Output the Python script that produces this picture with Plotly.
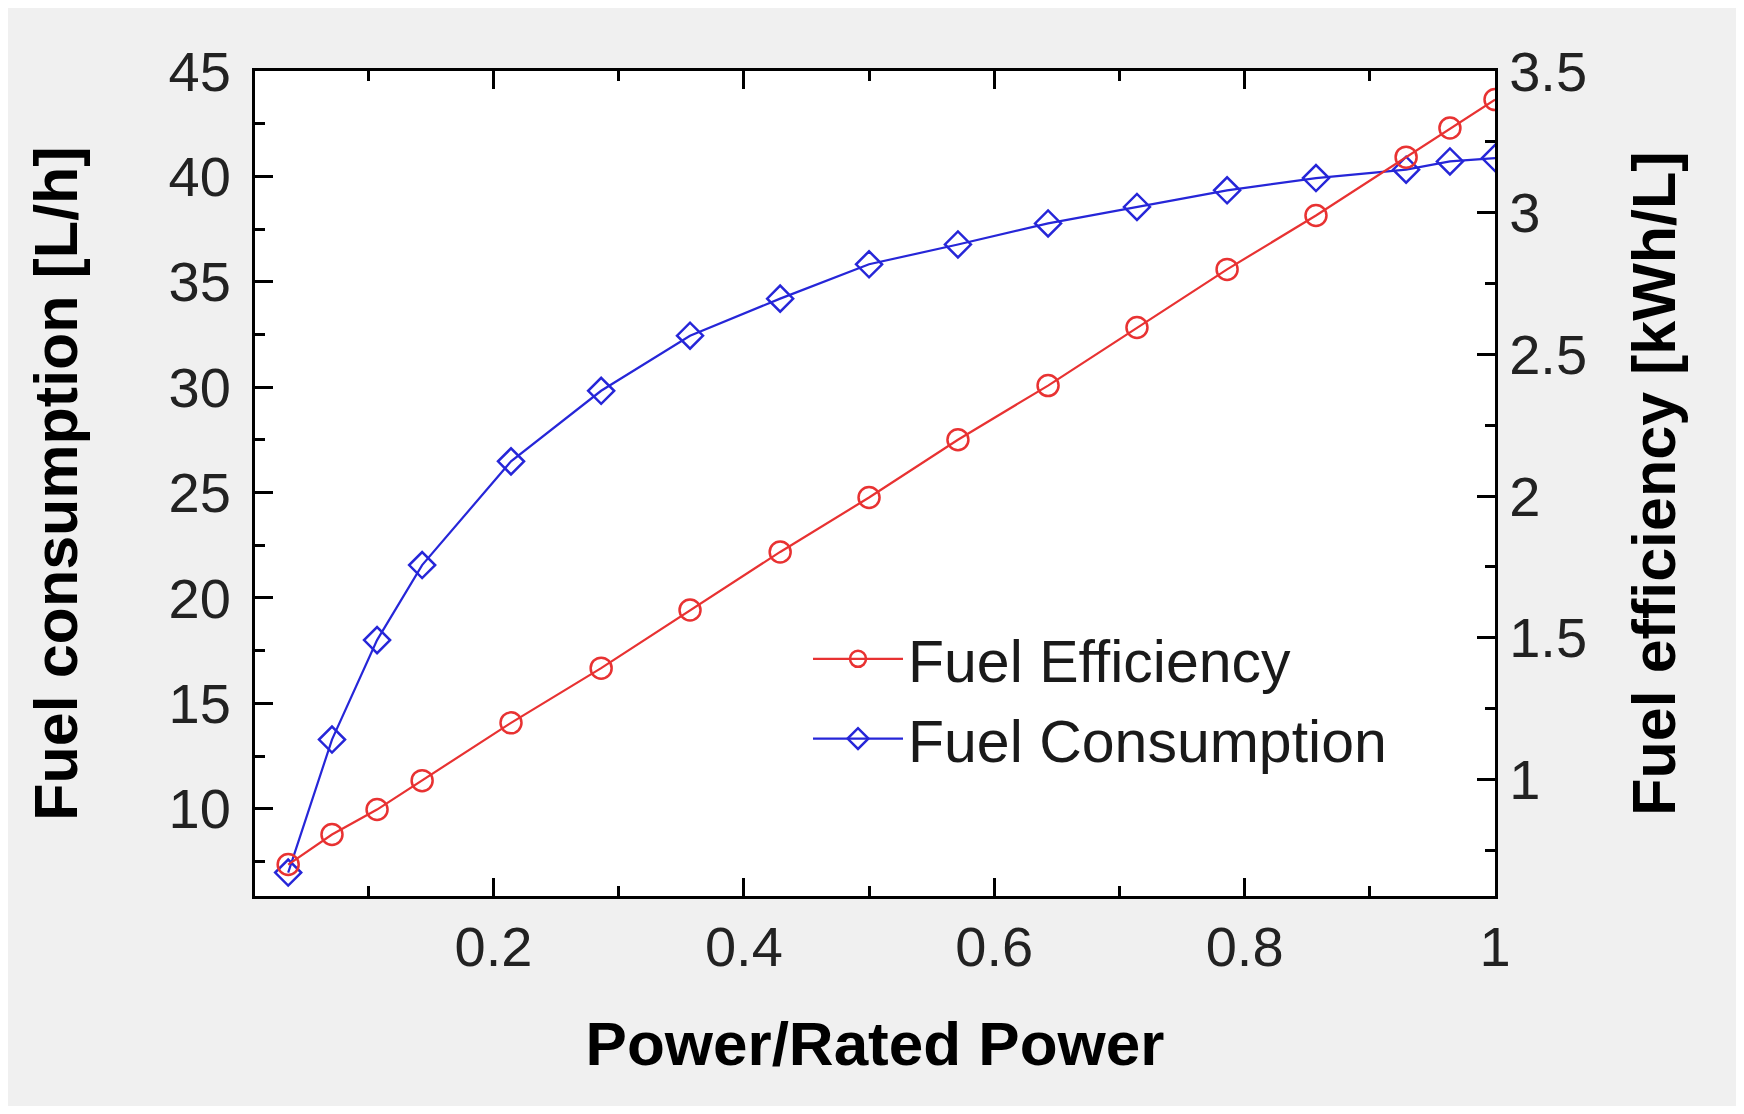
import plotly.graph_objects as go

# ---- data ----
power_ratio = [0.036, 0.071, 0.107, 0.143, 0.214, 0.286, 0.357, 0.429, 0.5,
               0.571, 0.643, 0.714, 0.786, 0.857, 0.929, 0.964, 1.0]
fuel_consumption = [6.97, 13.28, 18.0, 21.56, 26.48, 29.83, 32.44, 34.2, 35.83,
                    36.77, 37.77, 38.55, 39.34, 39.92, 40.32, 40.71, 40.87]
fuel_efficiency = [0.70, 0.806, 0.894, 0.996, 1.20, 1.393, 1.598, 1.803, 1.995,
                   2.199, 2.39, 2.595, 2.80, 2.99, 3.196, 3.299, 3.399]

x_range = [0.0095, 1.0]
y1_range = [5.86, 45]
y2_range = [0.589, 3.5]

# page has an 8px body margin: figure is sized so the white margin frames it
W, H = 1728, 1098
L, R, T, B = 247, 241, 63, 210
PW, PH = W - L - R, H - T - B

RED = "#e83232"
BLUE = "#2626d8"
FONT = "Liberation Sans, Arial, sans-serif"

fig = go.Figure()
fig.add_trace(go.Scatter(
    x=power_ratio, y=fuel_efficiency, name="Fuel Efficiency", yaxis="y2",
    mode="lines+markers",
    line=dict(color=RED, width=2.2),
    marker=dict(symbol="circle-open", size=21, color=RED, line=dict(width=2.5, color=RED)),
))
fig.add_trace(go.Scatter(
    x=power_ratio, y=fuel_consumption, name="Fuel Consumption", yaxis="y",
    mode="lines+markers",
    line=dict(color=BLUE, width=2.2),
    marker=dict(symbol="diamond-open", size=20, color=BLUE, line=dict(width=2.5, color=BLUE)),
))

def px2paper_x(px):
    return (px - L) / PW

def px2paper_y(py):
    return (H - B - py) / PH

axis_common = dict(
    showgrid=False, zeroline=False, showline=True, linecolor="black", linewidth=3,
    ticks="inside", ticklen=18, tickwidth=2.5, tickcolor="black",
    tickfont=dict(family=FONT, size=56, color="#222222"),
)
minor_common = dict(ticklen=10, tickwidth=2.5, tickcolor="black", ticks="inside", showgrid=False)
title_font = dict(family=FONT, size=61, color="black", weight="bold")

fig.update_layout(
    width=W, height=H, autosize=False,
    margin=dict(l=L, r=R, t=T, b=B, pad=0),
    paper_bgcolor="#f0f0f0", plot_bgcolor="white",
    font=dict(family=FONT),
    xaxis=dict(
        range=x_range, tick0=0, dtick=0.2, mirror="ticks",
        minor=dict(dtick=0.1, **minor_common),
        ticklabelstandoff=0,
        title=dict(text="Power/Rated Power", standoff=45, font=dict(title_font, size=62)),
        **axis_common,
    ),
    yaxis=dict(
        range=y1_range, tick0=0, dtick=5,
        minor=dict(dtick=2.5, **minor_common),
        ticklabelstandoff=10,
        title=dict(text="Fuel consumption [L/h]", standoff=72, font=title_font),
        **axis_common,
    ),
    yaxis2=dict(
        range=y2_range, tick0=0, dtick=0.5, overlaying="y", side="right",
        minor=dict(dtick=0.25, **minor_common),
        ticklabelstandoff=0,
        title=dict(text="Fuel efficiency [kWh/L]", standoff=47, font=title_font),
        **axis_common,
    ),
    legend=dict(
        x=px2paper_x(800), y=px2paper_y(606), xanchor="left", yanchor="top",
        bgcolor="rgba(0,0,0,0)", borderwidth=0,
        font=dict(family=FONT, size=59, color="#1a1a1a"),
        itemwidth=90,
    ),
    showlegend=True,
)

fig.write_html("out.html")
